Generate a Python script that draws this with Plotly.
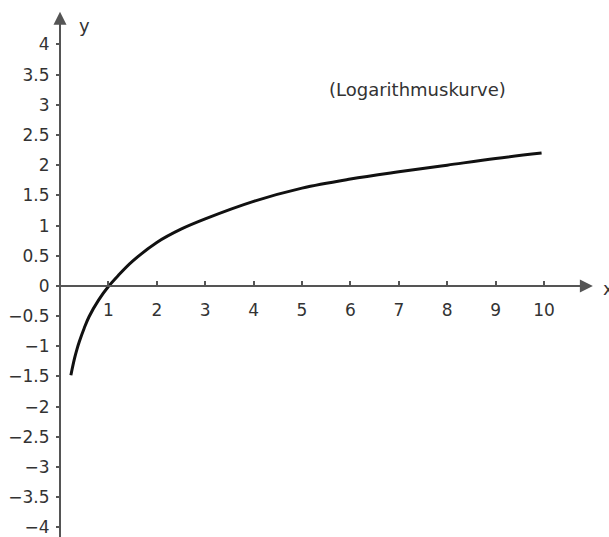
import plotly.graph_objects as go

# curve values
curve_x = [0.225, 0.25, 0.3, 0.35, 0.4, 0.5, 0.6, 0.8, 1.0, 1.2, 1.5, 2.0, 2.5, 3.0, 4.0, 5.0, 6.0, 7.0, 8.0, 9.0, 9.95]
curve_y = [-1.48, -1.38, -1.2, -1.05, -0.92, -0.7, -0.51, -0.23, -0.01, 0.17, 0.41, 0.72, 0.94, 1.11, 1.4, 1.62, 1.77, 1.89, 2.0, 2.11, 2.2]

x_ticks = [1, 2, 3, 4, 5, 6, 7, 8, 9, 10]
y_ticks = [-4, -3.5, -3, -2.5, -2, -1.5, -1, -0.5, 0, 0.5, 1, 1.5, 2, 2.5, 3, 3.5, 4]
y_tick_text = [("\u2212" if v < 0 else "") + ("%g" % abs(v)) for v in y_ticks]

W, H = 609, 537
x0_px, x_scale = 60, 48.4
y0_px, y_scale = 287, 60.6
x_range = [-x0_px / x_scale, (W - x0_px) / x_scale]
y_range = [-(H - y0_px) / y_scale, y0_px / y_scale]

axis_col = "#555555"
fam = "DejaVu Sans, sans-serif"
font = dict(family=fam, size=17, color="#333333")

fig = go.Figure()
fig.add_trace(go.Scatter(x=curve_x, y=curve_y, mode="lines",
                         line=dict(color="#111111", width=3, shape="spline", smoothing=1.0),
                         hoverinfo="skip", showlegend=False))

# axis lines with arrows
fig.add_annotation(x=11.01, y=0, ax=-0.05, ay=0, xref="x", yref="y", axref="x", ayref="y",
                   showarrow=True, arrowhead=2, arrowsize=1.3, arrowwidth=2, arrowcolor=axis_col, text="")
fig.add_annotation(x=0, y=4.54, ax=0, ay=-4.3, xref="x", yref="y", axref="x", ayref="y",
                   showarrow=True, arrowhead=2, arrowsize=1.3, arrowwidth=2, arrowcolor=axis_col, text="")

fig.add_annotation(x=0.5, y=4.31, xref="x", yref="y", text="y", showarrow=False,
                   font=dict(family=fam, size=18, color="#333333"))
fig.add_annotation(x=11.33, y=-0.04, xref="x", yref="y", text="x", showarrow=False,
                   font=dict(family=fam, size=18, color="#333333"))
fig.add_annotation(x=7.38, y=3.26, xref="x", yref="y", text="(Logarithmuskurve)", showarrow=False,
                   font=dict(family=fam, size=18, color="#333333"))

fig.update_layout(
    width=W, height=H, margin=dict(l=0, r=0, t=0, b=0),
    paper_bgcolor="white", plot_bgcolor="white",
    font=font,
    xaxis=dict(range=x_range, domain=[0, 1], anchor="free", position=(H - y0_px) / H,
               tickvals=x_ticks, ticktext=[str(v) for v in x_ticks], ticklabelstandoff=12,
               ticks="inside", ticklen=5, tickwidth=1.5, tickcolor=axis_col,
               ticklabeloverflow="allow",
               showline=False, showgrid=False, zeroline=False, fixedrange=True),
    yaxis=dict(range=y_range, domain=[0, 1], anchor="free", position=x0_px / W,
               tickvals=y_ticks, ticktext=y_tick_text, ticklabelstandoff=3,
               ticks="outside", ticklen=4, tickwidth=1.5, tickcolor=axis_col,
               ticklabeloverflow="allow",
               showline=False, showgrid=False, zeroline=False, fixedrange=True),
)

fig.write_html("out.html", config={"displayModeBar": False},
               post_script="document.body.style.margin='0';document.body.style.overflow='hidden';")
